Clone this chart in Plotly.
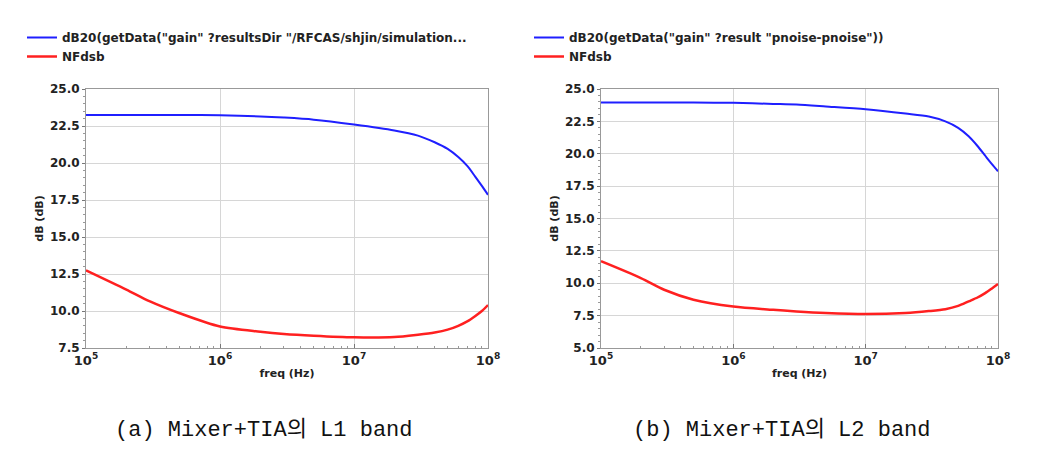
import plotly.graph_objects as go

# frequency points (Hz)
freq = [1e5, 2e5, 3e5, 5e5, 1e6, 2e6, 3e6, 5e6, 1e7, 2e7, 3e7, 4e7, 5e7, 6e7, 7e7, 8e7, 9e7, 1e8]

# (a) L1 band
gain_l1 = [23.25, 23.25, 23.25, 23.25, 23.22, 23.15, 23.07, 22.93, 22.6, 22.2, 21.85, 21.4, 20.95, 20.4, 19.8, 19.1, 18.45, 17.85]
nf_l1 = [12.75, 11.45, 10.65, 9.85, 8.95, 8.6, 8.45, 8.33, 8.22, 8.24, 8.4, 8.55, 8.74, 9.0, 9.3, 9.65, 10.0, 10.4]

# (b) L2 band
gain_l2 = [23.95, 23.95, 23.95, 23.95, 23.93, 23.85, 23.8, 23.65, 23.43, 23.1, 22.87, 22.5, 22.0, 21.35, 20.6, 19.85, 19.2, 18.65]
nf_l2 = [11.7, 10.4, 9.5, 8.73, 8.2, 7.95, 7.82, 7.7, 7.62, 7.7, 7.85, 8.0, 8.25, 8.6, 8.9, 9.24, 9.6, 9.94]

legend_a = 'dB20(getData("gain" ?resultsDir "/RFCAS/shjin/simulation...'
legend_b = 'dB20(getData("gain" ?result "pnoise-pnoise"))'
captions = ["(a) Mixer+TIA의 L1 band", "(b) Mixer+TIA의 L2 band"]

BLUE = "#1f1fff"
RED = "#ff2020"
W, H = 1049, 454
OFF = 8  # page body margin

fig = go.Figure()

fig.add_trace(go.Scatter(x=freq, y=gain_l1, mode="lines", name=legend_a,
                         line=dict(color=BLUE, width=2, shape="spline", smoothing=0.8), legend="legend"))
fig.add_trace(go.Scatter(x=freq, y=nf_l1, mode="lines", name="NFdsb",
                         line=dict(color=RED, width=2.5, shape="spline", smoothing=0.8), legend="legend"))
fig.add_trace(go.Scatter(x=freq, y=gain_l2, mode="lines", name=legend_b,
                         line=dict(color=BLUE, width=2, shape="spline", smoothing=0.8),
                         xaxis="x2", yaxis="y2", legend="legend2"))
fig.add_trace(go.Scatter(x=freq, y=nf_l2, mode="lines", name="NFdsb",
                         line=dict(color=RED, width=2.5, shape="spline", smoothing=0.8),
                         xaxis="x2", yaxis="y2", legend="legend2"))

xticks = [1e5, 1e6, 1e7, 1e8]
xtext = ["10<sup>5</sup>", "10<sup>6</sup>", "10<sup>7</sup>", "10<sup>8</sup>"]
minor_x = [k * 10 ** e for e in range(5, 8) for k in range(2, 10)]

common_x = dict(
    type="log", range=[5, 8], tickvals=xticks, ticktext=xtext,
    showgrid=True, gridcolor="#d6d6d6", gridwidth=1,
    showline=True, linecolor="#999", linewidth=1, mirror=True,
    ticks="inside", ticklen=4, tickcolor="#777",
    minor=dict(ticks="inside", ticklen=2, tickcolor="#999", showgrid=False, tickvals=minor_x),
    tickfont=dict(family="DejaVu Sans", size=13, color="#222", weight="bold"),
    title=dict(text="<b>freq (Hz)</b>", font=dict(family="DejaVu Sans", size=11, color="#222"), standoff=2),
    zeroline=False, automargin=False,
)
common_y = dict(
    dtick=2.5, tickformat=".1f",
    showgrid=True, gridcolor="#d6d6d6", gridwidth=1,
    showline=True, linecolor="#999", linewidth=1, mirror=True,
    ticks="outside", ticklen=3, tickcolor="#777",
    minor=dict(ticks="outside", ticklen=2, tickcolor="#999", showgrid=False, dtick=0.5),
    tickfont=dict(family="DejaVu Sans", size=12, color="#222", weight="bold"),
    title=dict(text="<b>dB (dB)</b>", font=dict(family="DejaVu Sans", size=11, color="#222"), standoff=4),
    zeroline=False, automargin=False,
)

legend_common = dict(
    xanchor="left", yanchor="top", bgcolor="rgba(0,0,0,0)",
    font=dict(family="DejaVu Sans", size=12, color="#222", weight="bold"),
    tracegroupgap=0, itemwidth=30,
)


def px_x(v):
    return (v - OFF) / W


def px_y(v):
    return 1 - (v - OFF) / H


fig.update_layout(
    width=W, height=H,
    margin=dict(l=0, r=0, t=0, b=0, autoexpand=False),
    paper_bgcolor="white", plot_bgcolor="white",
    xaxis=dict(domain=[px_x(86), px_x(488)], anchor="y", **common_x),
    yaxis=dict(domain=[px_y(348), px_y(89)], anchor="x", range=[7.5, 25], **common_y),
    xaxis2=dict(domain=[px_x(601), px_x(998)], anchor="y2", **common_x),
    yaxis2=dict(domain=[px_y(348), px_y(89)], anchor="x2", range=[5, 25], **common_y),
    legend=dict(x=px_x(22), y=px_y(23), **legend_common),
    legend2=dict(x=px_x(529), y=px_y(23), **legend_common),
    showlegend=True,
)

for cap, xc in zip(captions, [264, 782]):
    fig.add_annotation(text=cap, x=px_x(xc), y=px_y(430), xref="paper", yref="paper",
                       showarrow=False, xanchor="center", yanchor="middle",
                       font=dict(family="Liberation Mono, Noto Sans CJK KR", size=22, color="#111"))

fig.write_html("out.html")
